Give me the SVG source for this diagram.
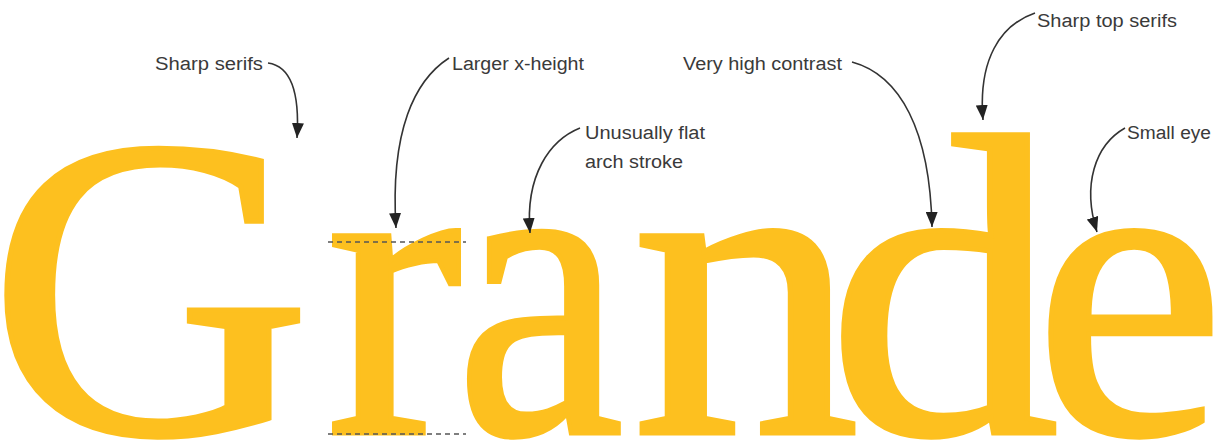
<svg xmlns="http://www.w3.org/2000/svg" width="1225" height="440" viewBox="0 0 1225 440">
<defs>
<style>
.glyph{font-size:430px;fill:#FDC01F;stroke:#FDC01F;stroke-width:5px;stroke-linejoin:miter}
.lbl{font-family:"Liberation Sans",Arial,sans-serif;font-size:18px;fill:#3a3a3a}
.conn{fill:none;stroke:#333;stroke-width:1.6px}
.guide{stroke:#555;stroke-width:1.6px;stroke-dasharray:5 4}
</style>
<marker id="ah" markerUnits="userSpaceOnUse" markerWidth="16" markerHeight="12" viewBox="0 0 16 12" refX="15" refY="6" orient="auto">
<path d="M0,0 L15,6 L0,12 z" fill="#222"/>
</marker>
</defs>
<rect width="1225" height="440" fill="#fff"/>
<g id="word" font-family="'Liberation Serif', 'Times New Roman', Times, serif">
<text class="glyph" x="-11" y="433" transform="scale(1.04,1)">G</text>
<text class="glyph" x="326" y="433" transform="translate(330,0) scale(0.95,1) translate(-330,0)">r</text>
<text class="glyph" x="518" y="433" transform="scale(0.88,1)">a</text>
<text class="glyph" x="632" y="433" transform="translate(636,0) scale(1.06,1) translate(-636,0)">n</text>
<text class="glyph" x="828" y="433" transform="translate(840,0) scale(1.08,1) translate(-840,0)">d</text>
<text class="glyph" x="1034" y="433">e</text>
</g>
<g id="guides">
<line class="guide" x1="328" y1="242" x2="466" y2="242"/>
<line class="guide" x1="328" y1="434" x2="466" y2="434"/>
</g>
<g id="label-sharp-serifs"><text class="lbl" x="155" y="70" textLength="108" lengthAdjust="spacingAndGlyphs">Sharp serifs</text></g>
<g id="label-larger-x-height"><text class="lbl" x="452" y="70" textLength="132" lengthAdjust="spacingAndGlyphs">Larger x-height</text></g>
<g id="label-flat-arch"><text class="lbl" x="585" y="139" textLength="120" lengthAdjust="spacingAndGlyphs">Unusually flat</text><text class="lbl" x="585" y="168" textLength="98" lengthAdjust="spacingAndGlyphs">arch stroke</text></g>
<g id="label-high-contrast"><text class="lbl" x="683" y="70" textLength="159" lengthAdjust="spacingAndGlyphs">Very high contrast</text></g>
<g id="label-top-serifs"><text class="lbl" x="1037" y="27" textLength="140" lengthAdjust="spacingAndGlyphs">Sharp top serifs</text></g>
<g id="label-small-eye"><text class="lbl" x="1127" y="139" textLength="84" lengthAdjust="spacingAndGlyphs">Small eye</text></g>
<g id="connectors">
<path class="conn" marker-end="url(#ah)" d="M268,63 C290,66 300,90 297,138"/>
<path class="conn" marker-end="url(#ah)" d="M449,58 C415,80 390,130 396,228"/>
<path class="conn" marker-end="url(#ah)" d="M580,128 C550,140 525,175 530,233"/>
<path class="conn" marker-end="url(#ah)" d="M852,62 C900,75 930,130 932,227"/>
<path class="conn" marker-end="url(#ah)" d="M1035,13 C1000,25 978,60 983,120"/>
<path class="conn" marker-end="url(#ah)" d="M1125,128 C1095,145 1082,185 1097,232"/>
</g>
</svg>
